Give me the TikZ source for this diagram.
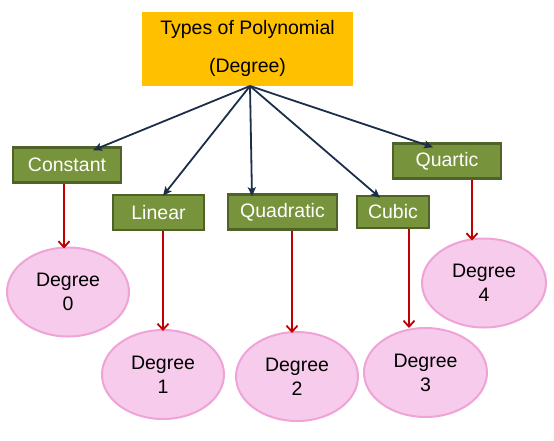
\documentclass[tikz,border=0pt]{standalone}
\usepackage{fontspec}
\setmainfont{Liberation Sans}
\usetikzlibrary{shapes.geometric,arrows.meta}
\definecolor{topfill}{HTML}{FFC000}
\definecolor{boxfill}{HTML}{77933C}
\definecolor{boxedge}{HTML}{4F6228}
\definecolor{ellfill}{HTML}{F6CBEB}
\definecolor{elledge}{HTML}{EFA3D6}
\definecolor{navy}{HTML}{1C2E4A}
\definecolor{darkred}{HTML}{C00000}
\tikzset{
  topbox/.style={rectangle, fill=topfill, draw=none, minimum width=211pt, minimum height=74pt, align=center, font=\fontsize{19.5}{38}\selectfont, inner sep=0pt},
  typebox/.style={rectangle, fill=boxfill, draw=boxedge, line width=2.5pt, text=white, minimum height=35pt, inner sep=0pt, font=\fontsize{19.5}{22}\selectfont},
  degell/.style={ellipse, fill=ellfill, draw=elledge, line width=2pt, minimum width=122pt, minimum height=89pt, inner sep=0pt, align=center, font=\fontsize{19.5}{24}\selectfont},
  navyarr/.style={draw=navy, line width=1.8pt, -{Stealth[length=9pt,width=8pt,inset=2pt]}},
  redarr/.style={draw=darkred, line width=1.8pt, -{Straight Barb[length=6pt,width=11pt,line width=1.8pt]}},
}
\begin{document}
\begin{tikzpicture}[x=1pt,y=-1pt]
\useasboundingbox (0,0) rectangle (554,440);
\node[topbox] (top) at (247.5,48.5) {Types of Polynomial\\(Degree)};
\coordinate (hub) at (250,86);
\node[typebox, minimum width=108pt] (constant) at (67,165) {Constant};
\node[typebox, minimum width=91pt] (linear) at (158.5,212.5) {Linear};
\node[typebox, minimum width=109pt] (quadratic) at (282.5,212) {Quadratic};
\node[typebox, minimum width=72pt, minimum height=32pt] (cubic) at (393,212) {Cubic};
\node[typebox, minimum width=108pt] (quartic) at (447,161) {Quartic};

\node[degell] (e0) at (68,292) {Degree\\0};
\node[degell] (e1) at (163,374.5) {Degree\\1};
\node[degell] (e2) at (297,376.5) {Degree\\2};
\node[degell, minimum width=123pt] (e3) at (425.5,372.5) {Degree\\3};
\node[degell, minimum width=124pt] (e4) at (484,283) {Degree\\4};

\draw[navyarr] (hub) -- ([xshift=26pt,yshift=-4pt]constant.north);
\draw[navyarr] (hub) -- ([xshift=4.5pt,yshift=-2pt]linear.north);
\draw[navyarr] (hub) -- ([xshift=-30.5pt,yshift=-3pt]quadratic.north);
\draw[navyarr] (hub) -- ([xshift=-13pt,yshift=-3pt]cubic.north);
\draw[navyarr] (hub) -- ([xshift=-14pt,yshift=-5pt]quartic.north);

\draw[redarr] ([xshift=-3pt]constant.south) -- ([xshift=-3pt,yshift=-2pt]constant.south |- e0.north);
\draw[redarr] (linear.south -| e1.north) -- ([yshift=-2pt]e1.north);
\draw[redarr] ([xshift=9.5pt]quadratic.south) -- ([xshift=9.5pt,yshift=-2pt]quadratic.south |- e2.north);
\draw[redarr] ([xshift=16pt]cubic.south) -- ([xshift=16pt,yshift=-1pt]cubic.south |- e3.north);
\draw[redarr] ([xshift=25pt]quartic.south) -- ([xshift=25pt,yshift=-3pt]quartic.south |- e4.north);
\end{tikzpicture}
\end{document}
